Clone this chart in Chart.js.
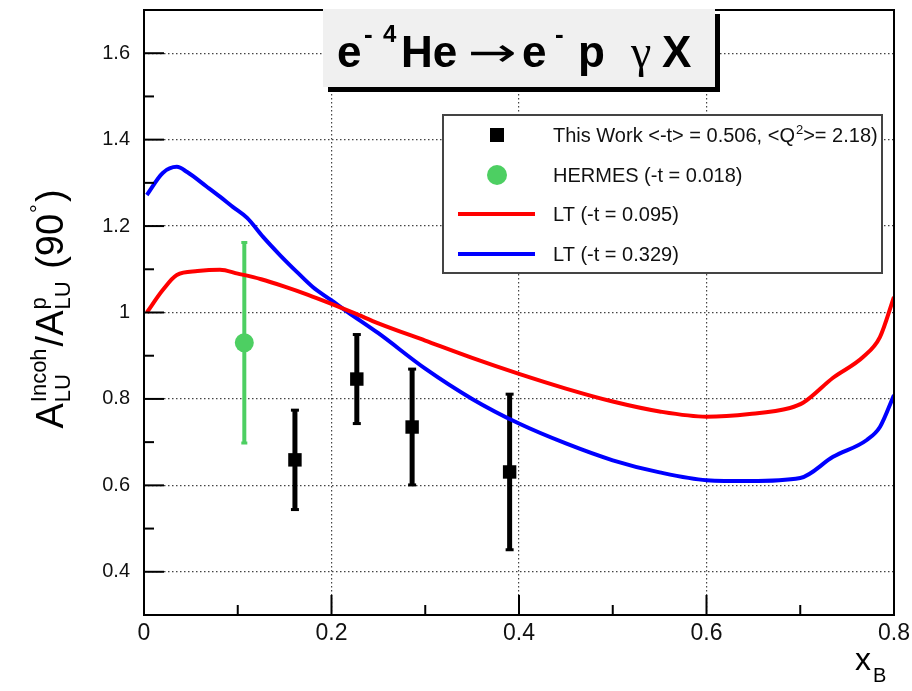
<!DOCTYPE html>
<html>
<head>
<meta charset="utf-8">
<script src="https://cdn.jsdelivr.net/npm/chart.js@4.4.1/dist/chart.umd.min.js"></script>
<style>
  body { margin: 0; background: #fff; }
  canvas { display: block; }
</style>
</head>
<body>
<canvas id="asym" width="912" height="691"></canvas>
<script>
// This Work points (x_B, ratio, error)
const workX = [0.161, 0.227, 0.286, 0.390];
const workY = [0.659, 0.846, 0.735, 0.631];
const workErr = [0.115, 0.103, 0.134, 0.180];

// HERMES point
const hermesX = [0.107];
const hermesY = [0.930];
const hermesErr = [0.232];

// LT curve, -t = 0.095
const ltLowX = [0.003, 0.020, 0.035, 0.057, 0.081, 0.100, 0.125, 0.150, 0.175, 0.200, 0.225, 0.250,
                0.300, 0.350, 0.400, 0.450, 0.500, 0.550, 0.600, 0.646, 0.689, 0.703, 0.735, 0.767, 0.785, 0.800];
const ltLowY = [1.000, 1.052, 1.087, 1.096, 1.099, 1.090, 1.077, 1.060, 1.041, 1.020, 0.998, 0.975,
                0.935, 0.895, 0.858, 0.824, 0.794, 0.771, 0.759, 0.765, 0.779, 0.791, 0.849, 0.897, 0.943, 1.036];

// LT curve, -t = 0.329
const ltHighX = [0.003, 0.020, 0.035, 0.046, 0.067, 0.081, 0.095, 0.110, 0.127, 0.145, 0.163, 0.180,
                 0.200, 0.218, 0.250, 0.300, 0.350, 0.400, 0.450, 0.500, 0.550, 0.600,
                 0.646, 0.700, 0.735, 0.771, 0.785, 0.800];
const ltHighY = [1.272, 1.323, 1.337, 1.325, 1.291, 1.268, 1.244, 1.219, 1.175, 1.133, 1.094, 1.059,
                 1.028, 1.000, 0.952, 0.870, 0.800, 0.743, 0.697, 0.658, 0.630, 0.612,
                 0.610, 0.617, 0.666, 0.705, 0.735, 0.809];

const xTicks = [0, 0.2, 0.4, 0.6, 0.8];
const xTickLabels = ['0', '0.2', '0.4', '0.6', '0.8'];
const xMinor = [0.1, 0.3, 0.5, 0.7];
const yTicks = [0.4, 0.6, 0.8, 1.0, 1.2, 1.4, 1.6];
const yTickLabels = ['0.4', '0.6', '0.8', '1', '1.2', '1.4', '1.6'];
const yMinor = [0.5, 0.7, 0.9, 1.1, 1.3, 1.5];

const legendLabels = ['This Work <-t> = 0.506, <Q', 'HERMES (-t = 0.018)', 'LT (-t = 0.095)', 'LT (-t = 0.329)'];

const RED = '#ff0000';
const BLUE = '#0000ff';
const GREEN = '#4dcf62';
const SANS = '"Liberation Sans", Arial, Helvetica, sans-serif';

const pts = (xs, ys) => xs.map((x, i) => ({ x: x, y: ys[i] }));

function line(ctx, x1, y1, x2, y2) {
    ctx.beginPath();
    ctx.moveTo(x1, y1);
    ctx.lineTo(x2, y2);
    ctx.stroke();
}

function drawErrBars(chart, xs, ys, errs, color, width, capW) {
    const ctx = chart.ctx;
    const xs_ = chart.scales.x, ys_ = chart.scales.y;
    ctx.save();
    ctx.strokeStyle = color;
    ctx.fillStyle = color;
    ctx.lineWidth = width;
    xs.forEach((x, i) => {
        const px = xs_.getPixelForValue(x);
        const top = ys_.getPixelForValue(ys[i] + errs[i]);
        const bot = ys_.getPixelForValue(ys[i] - errs[i]);
        line(ctx, px, top, px, bot);
        ctx.fillRect(px - capW / 2, top - 1.5, capW, 3);
        ctx.fillRect(px - capW / 2, bot - 1.5, capW, 3);
    });
    ctx.restore();
}

const overlay = {
    id: 'overlay',
    beforeDatasetsDraw(chart) {
        drawErrBars(chart, hermesX, hermesY, hermesErr, GREEN, 4, 6);
        drawErrBars(chart, workX, workY, workErr, '#000', 5, 8);
    },
    afterDraw(chart) {
        const ctx = chart.ctx;
        const a = chart.chartArea;
        const sx = chart.scales.x, sy = chart.scales.y;
        ctx.save();

        // inward tick marks
        ctx.strokeStyle = '#000';
        ctx.lineWidth = 2;
        xTicks.forEach(v => { const p = sx.getPixelForValue(v); line(ctx, p, a.bottom, p, a.bottom - 20); });
        xMinor.forEach(v => { const p = sx.getPixelForValue(v); line(ctx, p, a.bottom, p, a.bottom - 10); });
        yTicks.forEach(v => { const p = sy.getPixelForValue(v); line(ctx, a.left, p, a.left + 20, p); });
        yMinor.forEach(v => { const p = sy.getPixelForValue(v); line(ctx, a.left, p, a.left + 10, p); });

        // frame
        ctx.lineWidth = 2;
        ctx.strokeRect(a.left, a.top, a.right - a.left, a.bottom - a.top);

        // title box with shadow
        ctx.fillStyle = '#000';
        ctx.fillRect(328, 14, 392, 78);
        ctx.fillStyle = '#f0f0f0';
        ctx.fillRect(323, 9, 392, 78);
        ctx.fillStyle = '#000';
        ctx.textBaseline = 'alphabetic';
        ctx.textAlign = 'left';
        ctx.font = 'bold 44px ' + SANS;
        ctx.fillText('e', 337, 67);
        ctx.fillText('He', 401, 67);
        ctx.fillText('e', 522, 67);
        ctx.fillText('p', 578, 67);
        ctx.fillText('X', 662, 67);
        ctx.font = 'bold 26px ' + SANS;
        ctx.fillText('-', 364, 43);
        ctx.fillText('-', 555, 43);
        ctx.font = 'bold 24px ' + SANS;
        ctx.fillText('4', 383, 42);
        ctx.font = '46px "Liberation Serif", serif';
        ctx.fillText('\u03b3', 631, 67);
        // arrow stretched to its width in the figure
        ctx.font = '40px "DejaVu Sans", sans-serif';
        const aw = ctx.measureText('\u2192').width;
        ctx.save();
        ctx.translate(468, 66);
        ctx.scale(49 / aw, 1);
        ctx.fillText('\u2192', 0, 0);
        ctx.restore();

        // legend
        ctx.fillStyle = '#fff';
        ctx.fillRect(443, 115, 439, 158);
        ctx.strokeStyle = '#444';
        ctx.lineWidth = 2;
        ctx.strokeRect(443, 115, 439, 158);
        ctx.fillStyle = '#000';
        ctx.fillRect(490, 128, 14, 14);
        ctx.fillStyle = GREEN;
        ctx.beginPath();
        ctx.arc(497, 175, 10, 0, Math.PI * 2);
        ctx.fill();
        ctx.lineWidth = 4;
        ctx.strokeStyle = RED;
        line(ctx, 458, 214, 535, 214);
        ctx.strokeStyle = BLUE;
        line(ctx, 458, 254, 535, 254);
        ctx.fillStyle = '#111';
        ctx.font = '20px ' + SANS;
        ctx.fillText(legendLabels[0], 553, 142);
        let lx = 553 + ctx.measureText(legendLabels[0]).width;
        ctx.font = '13px ' + SANS;
        ctx.fillText('2', lx + 1, 134);
        lx += ctx.measureText('2').width + 1;
        ctx.font = '20px ' + SANS;
        ctx.fillText('>= 2.18)', lx, 142);
        ctx.fillText(legendLabels[1], 553, 182);
        ctx.fillText(legendLabels[2], 553, 221);
        ctx.fillText(legendLabels[3], 553, 261);

        // x axis title
        ctx.fillStyle = '#000';
        ctx.font = '32px ' + SANS;
        ctx.fillText('x', 855, 670);
        ctx.font = '20px ' + SANS;
        ctx.fillText('B', 873, 682);

        // y axis title, rotated
        const big = '38px ' + SANS, small = '22px ' + SANS;
        const w = (f, t) => { ctx.font = f; return ctx.measureText(t).width; };
        const parts = [
            { t: 'A', f: big },
            { sup: 'Incoh', sub: 'LU' },
            { t: '/A', f: big },
            { sup: 'p', sub: 'LU' },
            { t: ' (90', f: big },
            { sup: '\u00b0', sub: '' },
            { t: ')', f: big }
        ];
        const pw = p => p.t !== undefined ? w(p.f, p.t) : Math.max(w(small, p.sup), w(small, p.sub)) + 3;
        const total = parts.reduce((s, p) => s + pw(p), 0);
        ctx.translate(63, 309 + total / 2);
        ctx.rotate(-Math.PI / 2);
        let cx = 0;
        parts.forEach(p => {
            if (p.t !== undefined) {
                ctx.font = p.f;
                ctx.fillText(p.t, cx, 0);
            } else {
                ctx.font = small;
                ctx.fillText(p.sup, cx + 1, -17);
                ctx.fillText(p.sub, cx + 1, 7);
            }
            cx += pw(p);
        });

        ctx.restore();
    }
};

const gridColor = (edgeMin, edgeMax) => c =>
    (c.tick && (c.tick.value <= edgeMin || c.tick.value >= edgeMax)) ? 'rgba(0,0,0,0)' : '#444';

new Chart(document.getElementById('asym'), {
    type: 'scatter',
    data: {
        datasets: [
            {
                label: legendLabels[2],
                data: pts(ltLowX, ltLowY),
                showLine: true,
                borderColor: RED,
                borderWidth: 4,
                pointRadius: 0,
                cubicInterpolationMode: 'monotone',
                order: 0
            },
            {
                label: legendLabels[3],
                data: pts(ltHighX, ltHighY),
                showLine: true,
                borderColor: BLUE,
                borderWidth: 4,
                pointRadius: 0,
                cubicInterpolationMode: 'monotone',
                order: 0
            },
            {
                label: legendLabels[0],
                data: pts(workX, workY),
                pointStyle: 'rect',
                pointRadius: 9.5,
                backgroundColor: '#000',
                borderWidth: 0,
                order: 1
            },
            {
                label: legendLabels[1],
                data: pts(hermesX, hermesY),
                pointStyle: 'circle',
                pointRadius: 9.5,
                backgroundColor: GREEN,
                borderWidth: 0,
                order: 1
            }
        ]
    },
    options: {
        responsive: false,
        animation: false,
        layout: { padding: { top: 10, right: 18, left: 0, bottom: 0 } },
        plugins: { legend: { display: false }, tooltip: { enabled: false } },
        scales: {
            x: {
                type: 'linear',
                min: 0,
                max: 0.8,
                afterFit: s => { s.height = 76; s.paddingLeft = 0; s.paddingRight = 0; },
                afterBuildTicks: s => { s.ticks = xTicks.map(v => ({ value: v })); },
                ticks: {
                    callback: (v, i) => xTickLabels[i],
                    font: { family: SANS, size: 23 },
                    color: '#111',
                    padding: 5,
                    maxRotation: 0,
                    autoSkip: false
                },
                grid: { drawTicks: false, color: gridColor(0, 0.8), lineWidth: 1.2 },
                border: { display: false, dash: [1.5, 2.5] }
            },
            y: {
                type: 'linear',
                min: 0.3,
                max: 1.7,
                afterFit: s => { s.width = 144; s.paddingTop = 0; s.paddingBottom = 0; },
                afterBuildTicks: s => { s.ticks = yTicks.map(v => ({ value: v })); },
                ticks: {
                    callback: (v, i) => yTickLabels[i],
                    font: { family: SANS, size: 20 },
                    color: '#111',
                    padding: 14,
                    autoSkip: false
                },
                grid: { drawTicks: false, color: gridColor(0.3, 1.7), lineWidth: 1.2 },
                border: { display: false, dash: [1.5, 2.5] }
            }
        }
    },
    plugins: [overlay]
});
</script>
</body>
</html>
